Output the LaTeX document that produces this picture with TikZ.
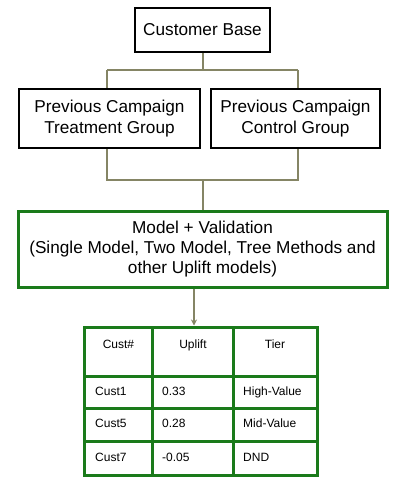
\documentclass[tikz,border=0pt]{standalone}
\usepackage{fontspec}
\setmainfont{Liberation Sans}
\usetikzlibrary{arrows.meta}
\definecolor{conn}{HTML}{858565}
\definecolor{grn}{HTML}{1A7A1A}
\begin{document}
\begin{tikzpicture}[x=1pt,y=-1pt,
  blackbox/.style={draw=black,line width=1.6pt,inner sep=0pt,font=\fontsize{17.2}{21.5}\selectfont,align=center},
  greenbox/.style={draw=grn,line width=3pt,inner sep=0pt,font=\fontsize{17.2}{20}\selectfont,align=center},
  connector/.style={draw=conn,line width=1.3pt},
  cell/.style={font=\fontsize{12}{14}\selectfont,inner sep=0pt,text height=8.6pt,text depth=2.6pt},
  gridline/.style={draw=grn,line width=3pt}]
\useasboundingbox (0,0) rectangle (405,480);
\node[blackbox,minimum width=135pt,minimum height=44pt] (cb) at (202.5,30) {Customer Base};
\node[blackbox,minimum width=181pt,minimum height=59pt] (tg) at (109.5,118.5) {Previous Campaign\\Treatment Group};
\node[blackbox,minimum width=169pt,minimum height=59pt] (cg) at (295.5,118.5) {Previous Campaign\\Control Group};
\node[greenbox,minimum width=369pt,minimum height=76pt] (mv) at (202.5,249) {Model + Validation\\(Single Model, Two Model, Tree Methods and\\other Uplift models)};
\coordinate (j1) at (203,70);
\coordinate (j2) at (203,180);
\draw[connector] (cb.south -| j1) -- (j1);
\draw[connector] (j1 -| 107,0) -- (j1 -| 298,0);
\draw[connector] (107,70) -- (tg.north -| 107,0);
\draw[connector] (298,70) -- (cg.north -| 298,0);
\draw[connector] (tg.south -| 107,0) -- (107,180) -- (298,180) -- (cg.south -| 298,0);
\draw[connector] (j2) -- (mv.north -| j2);
% table
\node[draw=grn,line width=3pt,minimum width=233pt,minimum height=148pt,inner sep=0pt] (tbl) at (200.5,401) {};
\draw[gridline] (152,327) -- (152,475);
\draw[gridline] (233,327) -- (233,475);
\draw[gridline] (84,376) -- (317,376);
\draw[gridline] (84,408) -- (317,408);
\draw[gridline] (84,441) -- (317,441);
\draw[connector,-{Stealth[length=6pt,width=6pt]}] (mv.south -| 194,0) -- (tbl.north -| 194,0);
\node[cell] (h1) at (118.5,345) {Cust\#};
\node[cell] (h2) at (193,345) {Uplift};
\node[cell] (h3) at (275,345) {Tier};
\node[cell,anchor=west] (a1) at (95,392) {Cust1};
\node[cell,anchor=west] (a2) at (162,392) {0.33};
\node[cell,anchor=west] (a3) at (243,392) {High-Value};
\node[cell,anchor=west] (b1) at (95,424.5) {Cust5};
\node[cell,anchor=west] (b2) at (162,424.5) {0.28};
\node[cell,anchor=west] (b3) at (243,424.5) {Mid-Value};
\node[cell,anchor=west] (c1) at (95,458) {Cust7};
\node[cell,anchor=west] (c2) at (162,458) {-0.05};
\node[cell,anchor=west] (c3) at (243,458) {DND};
\end{tikzpicture}
\end{document}
